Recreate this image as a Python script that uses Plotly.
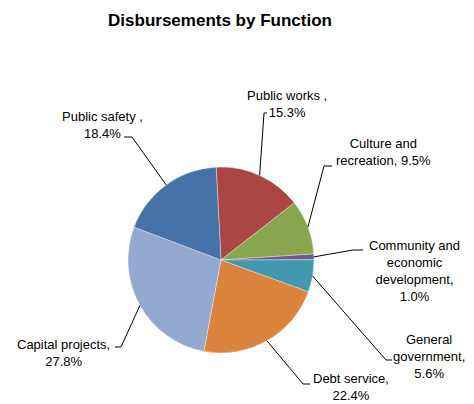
import math
import plotly.graph_objects as go

# page body has an 8px margin, so the figure is drawn from screen (8, 8)
OFF = 8
W, H = 474 - OFF, 404 - OFF

# ---- data ----
categories = ["Public works", "Culture and recreation", "Community and economic development",
              "General government", "Debt service", "Capital projects", "Public safety"]
values = [15.3, 9.5, 1.0, 5.6, 22.4, 27.8, 18.4]
label_templates = ["Public works ,<br>{p}", "Culture and<br>recreation, {p}",
                   "Community and<br>economic<br>development,<br>{p}", "General<br>government,<br>{p}",
                   "Debt service,<br>{p}", "Capital projects,<br>{p}", "Public safety ,<br>{p}"]
colors = ["#AA4643", "#89A54E", "#71588F", "#4198AF", "#DB843D", "#93A9CF", "#4572A7"]

# ---- layout constants (screen pixels) ----
CX, CY, R = 221, 260, 93
ROT = -3
label_pos = [(287, 104), (383, 152), (414, 271), (429, 356), (351, 387), (63, 353), (102, 125)]
text_pt = [(267, 113), (332, 166), (363, 250), (392, 360), (310, 384), (115, 347), (124, 137)]
elbow_pt = [(264, 113), (324, 166), (353, 250), (386, 360), (303, 384), (121, 347), (132, 137)]

def px(x):
    return (x - OFF) / W

def py(y):
    return 1 - (y - OFF) / H

fig = go.Figure(go.Pie(
    labels=categories, values=values, sort=False, direction="clockwise", rotation=ROT,
    marker=dict(colors=colors, line=dict(color="rgba(255,255,255,0.6)", width=0.6)),
    textinfo="none", hoverinfo="label+percent", showlegend=False,
    domain=dict(x=[px(CX - R), px(CX + R)], y=[py(CY + R), py(CY - R)]),
))

total = sum(values)
cum = 0
annotations = []
shapes = []
font = dict(family="Arial, Liberation Sans, sans-serif", size=13, color="#000000")
for i, v in enumerate(values):
    mid = (cum + v / 2) / total * 360 + ROT
    cum += v
    a = math.radians(mid)
    ex, ey = CX + R * math.sin(a), CY - R * math.cos(a)
    pct = f"{v / total * 100:.1f}%"
    lx, ly = label_pos[i]
    annotations.append(dict(x=px(lx), y=py(ly), xref="paper", yref="paper",
                            text=label_templates[i].format(p=pct), showarrow=False,
                            xanchor="center", yanchor="middle", align="center", font=font))
    tx, ty = text_pt[i]
    bx, by = elbow_pt[i]
    path = f"M{px(tx)},{py(ty)} L{px(bx)},{py(by)} L{px(ex)},{py(ey)}"
    shapes.append(dict(type="path", path=path, xref="paper", yref="paper",
                       line=dict(color="#000000", width=1)))

fig.update_layout(
    width=W, height=H, margin=dict(l=0, r=0, t=0, b=0),
    paper_bgcolor="white", plot_bgcolor="white",
    title=dict(text="<b>Disbursements by Function</b>", x=px(220), y=py(20),
               xanchor="center", yanchor="middle",
               font=dict(family="Arial, Liberation Sans, sans-serif", size=17, color="#000000")),
    annotations=annotations, shapes=shapes,
)

fig.write_html("out.html")
